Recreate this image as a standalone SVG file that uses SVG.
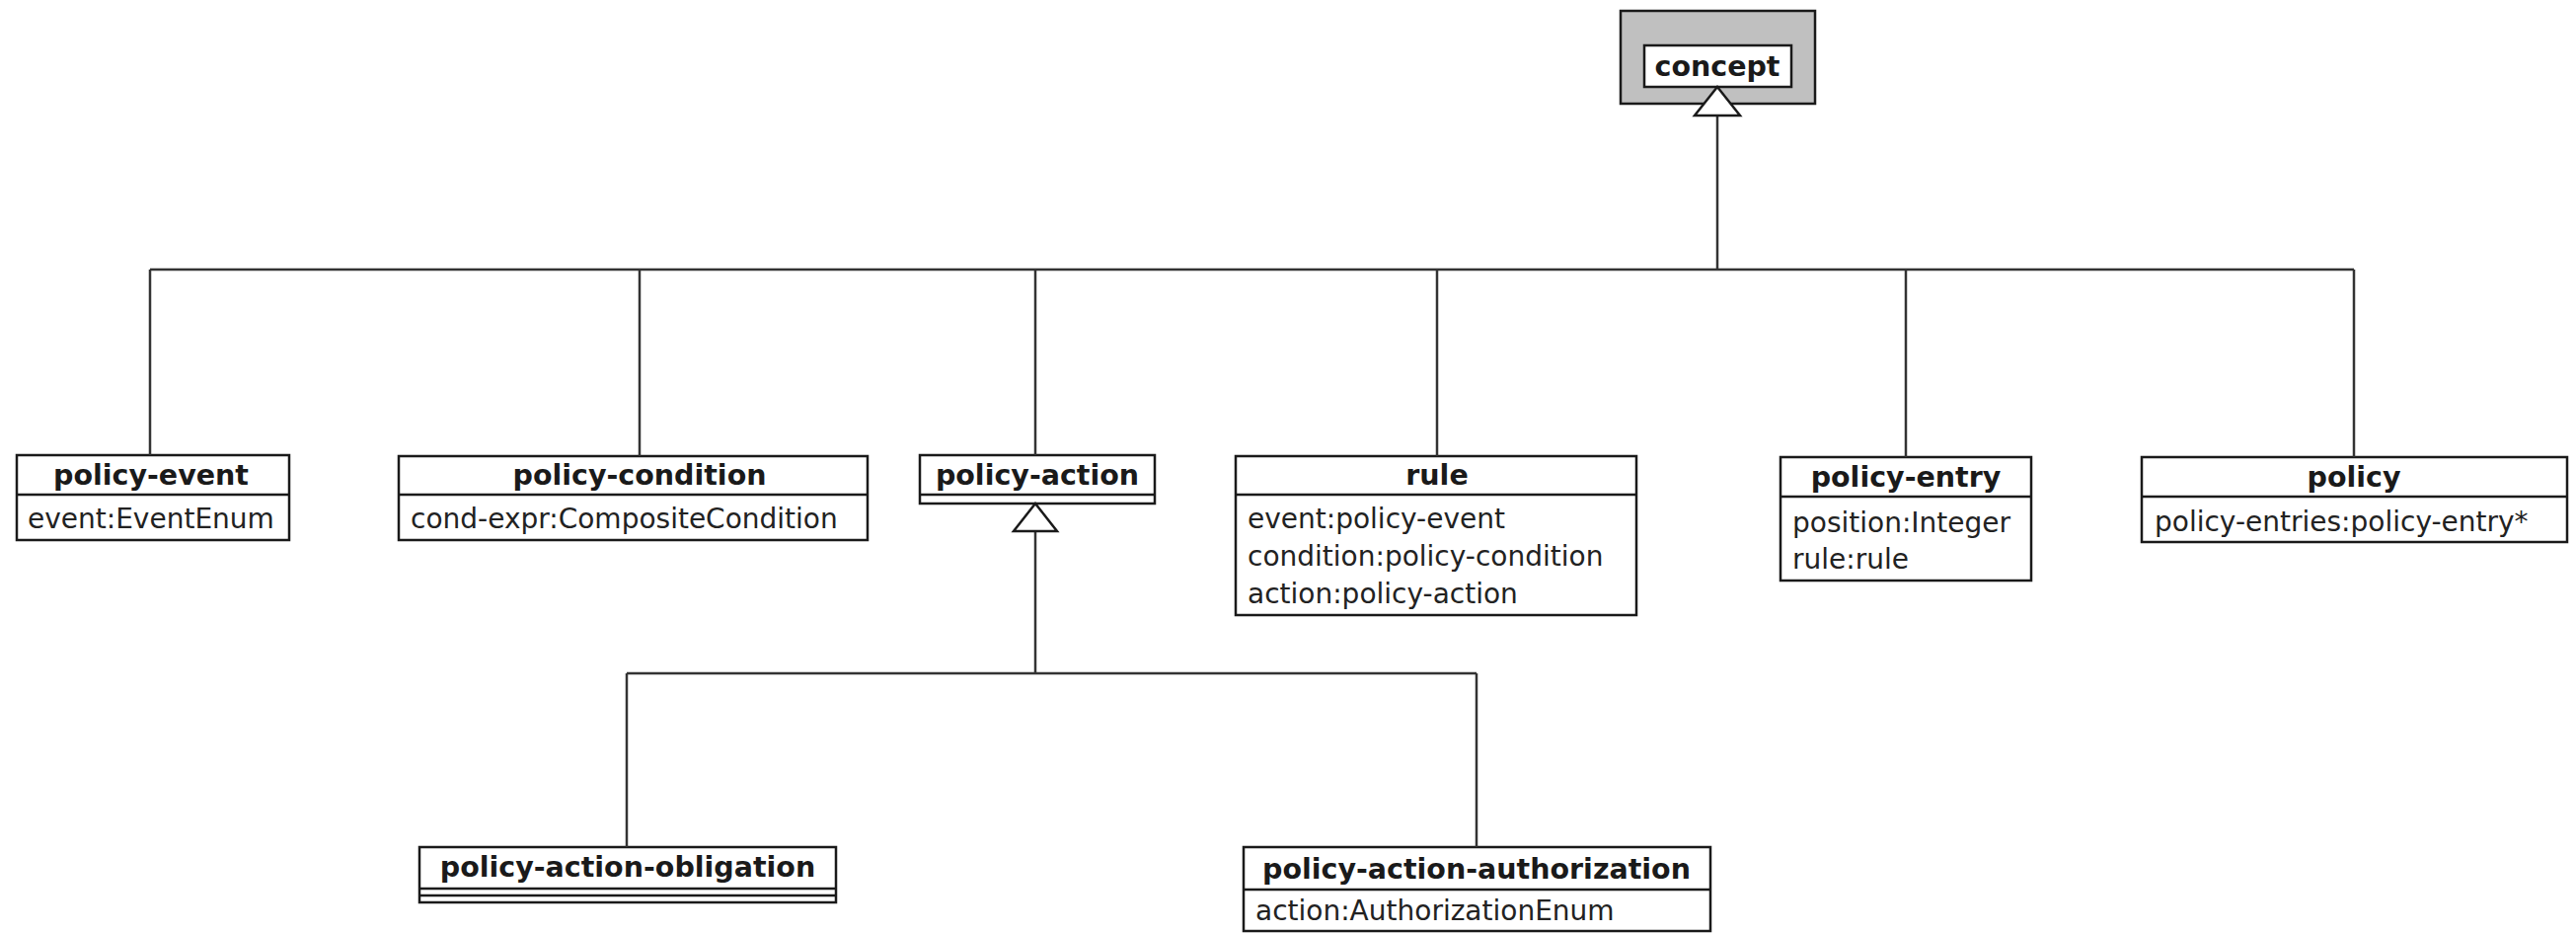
<svg xmlns="http://www.w3.org/2000/svg" width="2610" height="945" viewBox="0 0 2610 945">
  <style>
    .box { fill: #ffffff; stroke: #1a1a1a; stroke-width: 2.5; }
    .sep { stroke: #1a1a1a; stroke-width: 2.5; fill: none; }
    .title { font-family: "DejaVu Sans", "Liberation Sans", sans-serif; font-weight: bold; font-size: 28.5px; fill: #1a1a1a; text-anchor: middle; }
    .attr { font-family: "DejaVu Sans", "Liberation Sans", sans-serif; font-size: 28px; fill: #222222; }
    .conn { stroke: #333333; stroke-width: 2.5; fill: none; }
    .gen { fill: #ffffff; stroke: #1a1a1a; stroke-width: 2.5; stroke-linejoin: miter; }
  </style>

  <g id="concept">
    <rect x="1642" y="11" width="197" height="94" fill="#c0c0c0" stroke="#1a1a1a" stroke-width="2.5"/>
    <rect class="box" x="1666" y="46" width="149" height="42"/>
    <text class="title" x="1740" y="77">concept</text>
  </g>

  <g id="policy-event">
    <rect class="box" x="17" y="461" width="276" height="86"/>
    <line class="sep" x1="17" y1="501" x2="293" y2="501"/>
    <text class="title" x="153" y="491">policy-event</text>
    <text class="attr" x="28" y="535">event:EventEnum</text>
  </g>

  <g id="policy-condition">
    <rect class="box" x="404" y="462" width="475" height="85"/>
    <line class="sep" x1="404" y1="501" x2="879" y2="501"/>
    <text class="title" x="648" y="491">policy-condition</text>
    <text class="attr" x="416" y="535">cond-expr:CompositeCondition</text>
  </g>

  <g id="policy-action">
    <rect class="box" x="932" y="461" width="238" height="49"/>
    <line class="sep" x1="932" y1="501" x2="1170" y2="501"/>
    <text class="title" x="1051" y="491">policy-action</text>
  </g>

  <g id="rule">
    <rect class="box" x="1252" y="462" width="406" height="161"/>
    <line class="sep" x1="1252" y1="501" x2="1658" y2="501"/>
    <text class="title" x="1456" y="491">rule</text>
    <text class="attr" x="1264" y="535">event:policy-event</text>
    <text class="attr" x="1264" y="573">condition:policy-condition</text>
    <text class="attr" x="1264" y="611">action:policy-action</text>
  </g>

  <g id="policy-entry">
    <rect class="box" x="1804" y="463" width="254" height="125"/>
    <line class="sep" x1="1804" y1="503" x2="2058" y2="503"/>
    <text class="title" x="1931" y="493">policy-entry</text>
    <text class="attr" x="1816" y="539">position:Integer</text>
    <text class="attr" x="1816" y="576">rule:rule</text>
  </g>

  <g id="policy">
    <rect class="box" x="2170" y="463" width="431" height="86"/>
    <line class="sep" x1="2170" y1="503" x2="2601" y2="503"/>
    <text class="title" x="2385" y="493">policy</text>
    <text class="attr" x="2183" y="538">policy-entries:policy-entry*</text>
  </g>

  <g id="policy-action-obligation">
    <rect class="box" x="425" y="858" width="422" height="56"/>
    <line class="sep" x1="425" y1="900" x2="847" y2="900"/>
    <line class="sep" x1="425" y1="907" x2="847" y2="907"/>
    <text class="title" x="636" y="888">policy-action-obligation</text>
  </g>

  <g id="policy-action-authorization">
    <rect class="box" x="1260" y="858" width="473" height="85"/>
    <line class="sep" x1="1260" y1="901" x2="1733" y2="901"/>
    <text class="title" x="1496" y="890">policy-action-authorization</text>
    <text class="attr" x="1272" y="932">action:AuthorizationEnum</text>
  </g>

  <!-- generalization connectors, drawn above the boxes so the hollow heads stay visible -->
  <g id="connectors">
    <!-- upper tree: subclasses of concept -->
    <path class="conn" d="M1740,117 V273"/>
    <path class="conn" d="M152,273 H2385"/>
    <path class="conn" d="M152,273 V461"/>
    <path class="conn" d="M648,273 V462"/>
    <path class="conn" d="M1049,273 V461"/>
    <path class="conn" d="M1456,273 V462"/>
    <path class="conn" d="M1931,273 V463"/>
    <path class="conn" d="M2385,273 V463"/>
    <polygon class="gen" points="1740,88 1717,117 1763,117"/>
    <!-- lower tree: subclasses of policy-action -->
    <path class="conn" d="M1049,538 V682"/>
    <path class="conn" d="M635,682 H1496"/>
    <path class="conn" d="M635,682 V858"/>
    <path class="conn" d="M1496,682 V858"/>
    <polygon class="gen" points="1049,510 1027,538 1071,538"/>
  </g>
</svg>
